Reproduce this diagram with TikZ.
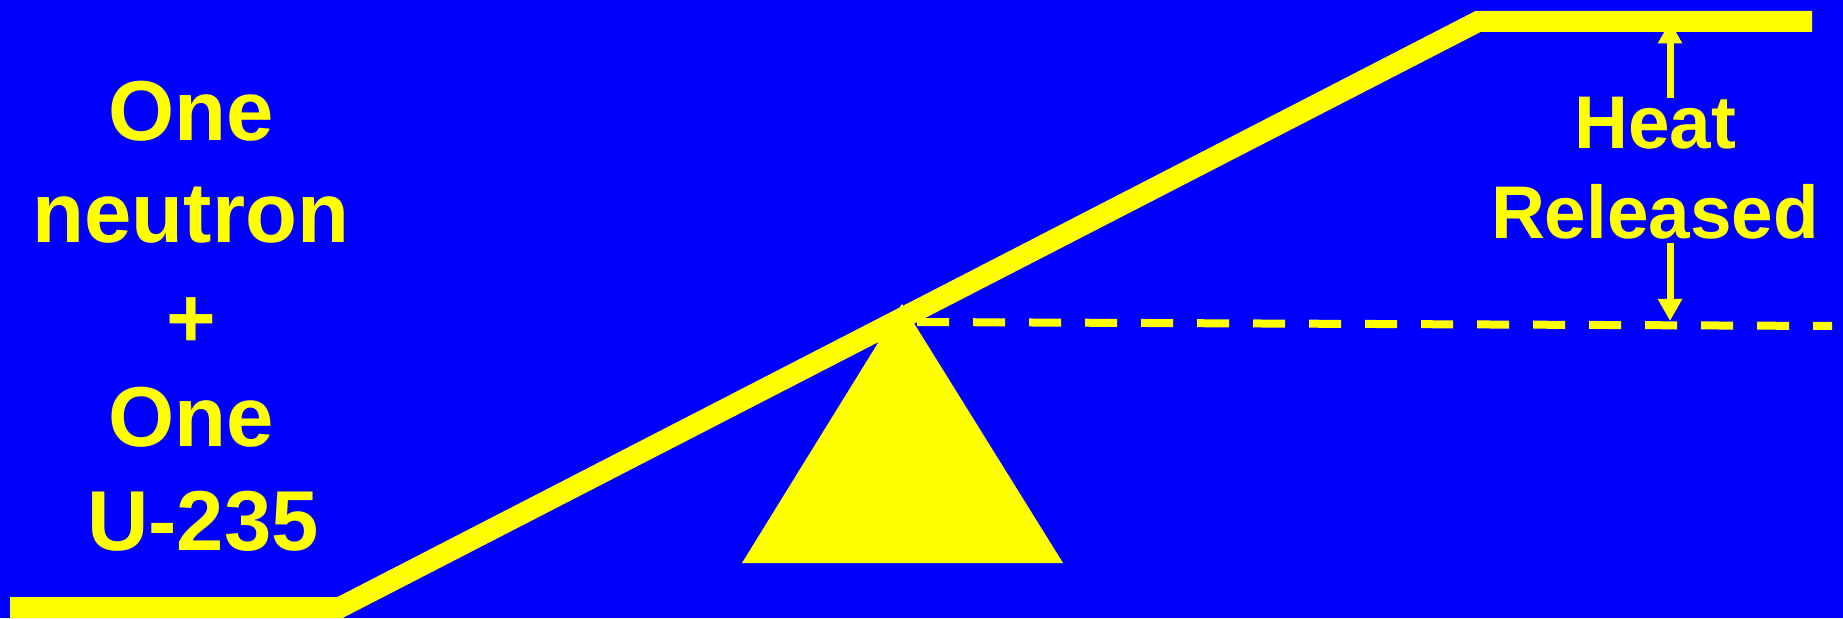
\documentclass[tikz,border=0pt]{standalone}
\usepackage{fontspec}
\setmainfont{Liberation Sans}
\usetikzlibrary{arrows.meta}
\definecolor{slideblue}{RGB}{0,0,255}
\definecolor{slideyellow}{RGB}{255,255,0}

\begin{document}
\begin{tikzpicture}[
    beam/.style={line width=2.1mm, slideyellow, line join=miter},
    lefttext/.style={anchor=base, inner sep=0pt, text=slideyellow,
        font=\fontsize{24.2}{29}\selectfont\bfseries},
    righttext/.style={anchor=base, inner sep=0pt, text=slideyellow,
        font=\fontsize{21.25}{25.5}\selectfont\bfseries},
    heatarrow/.style={-{Triangle[length=2.2mm, width=2.3mm]}, line width=0.7mm, slideyellow}
]
        % Background
        \useasboundingbox (0,0) rectangle (18.43,6.18);
        \fill[slideblue] (0,0) rectangle (18.43,6.18);

        % Fulcrum
        \fill[slideyellow] (7.42,0.55) -- (9.02,3.14) -- (10.63,0.55) -- cycle;

        % Energy beam
        \draw[beam] (0.10,0.105) -- (3.40,0.105) -- (14.78,5.965) -- (18.12,5.965);

        % Starting level
        \draw[slideyellow, line width=0.8mm, dash pattern=on 3.2mm off 2.4mm]
            (9.17,2.96) -- (18.32,2.92);

        % Reactants
        \node[lefttext] (one) at (1.91,4.77) {One};
        \node[lefttext] (neutron) at (1.91,3.75) {neutron};
        \node[lefttext] (plus) at (1.91,2.70) {+};
        \node[lefttext] (onemore) at (1.91,1.71) {One};
        \node[lefttext] (uranium) at (2.03,0.68) {U-235};

        % Energy difference
        \node[righttext] (heat) at (16.55,4.69) {Heat};
        \node[righttext] (released) at (16.55,3.79) {Released};
        \coordinate (topend) at (16.70,5.965);
        \coordinate (topstart) at (16.70,5.20);
        \coordinate (lowstart) at (16.70,3.75);
        \coordinate (lowend) at (16.70,2.97);
        \draw[heatarrow] (topstart) -- (topend);
        \draw[heatarrow] (lowstart) -- (lowend);

    \end{tikzpicture}
\end{document}
